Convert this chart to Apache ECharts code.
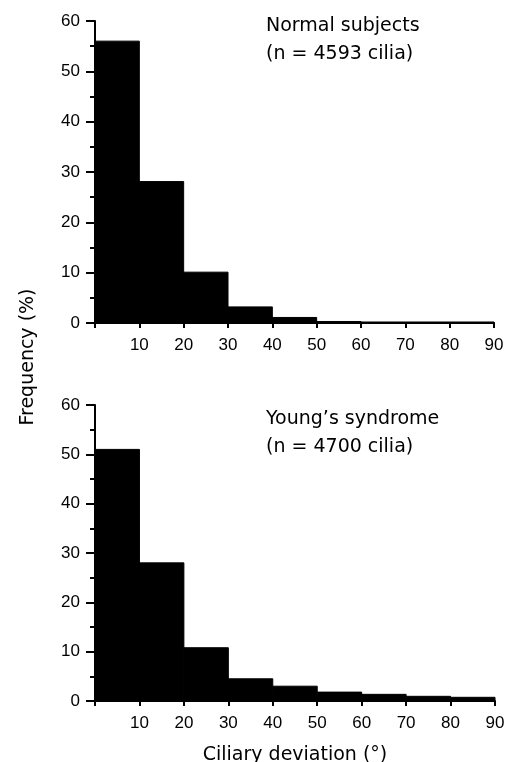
<!DOCTYPE html>
<html><head><meta charset="utf-8">
<script src="https://cdn.jsdelivr.net/npm/echarts@6/dist/echarts.min.js"></script>
<style>html,body{margin:0;padding:0;background:#fff}#c{width:532px;height:762px}</style>
</head><body><div id="c"></div>
<script>
const binStarts = [0,10,20,30,40,50,60,70,80];
const binWidth = 10;
const normalFreq = [56.0,28.1,10.1,3.2,1.1,0.3,0.2,0.2,0.2];
const youngFreq = [51.0,28.0,10.8,4.5,3.0,1.8,1.35,0.95,0.75];
const xTicks = [0,10,20,30,40,50,60,70,80,90];
const yTicks = [0,10,20,30,40,50,60];
const titles = [["Normal subjects","(n = 4593 cilia)"],["Young\u2019s syndrome","(n = 4700 cilia)"]];

const TICKFONT = '"Liberation Sans", Arial, sans-serif';
const TEXTFONT = '"DejaVu Sans", sans-serif';
const chart = echarts.init(document.getElementById('c'), null, {renderer:'canvas'});

function toData(arr){ return arr.map((v,i)=>[binStarts[i], binStarts[i]+binWidth, v]); }

function renderItem(params, api){
  const s = api.coord([api.value(0), api.value(2)]);
  const e = api.coord([api.value(1), 0]);
  return {type:'rect', shape:{x:s[0], y:s[1], width:e[0]-s[0], height:e[1]-s[1]},
    style:{fill:'#000', stroke:'#000', lineWidth:1}};
}

const grids = [
  {left:95, right:38, top:21, height:302, containLabel:false, outerBoundsMode:'none'},
  {left:95, right:37, top:405, height:296, containLabel:false, outerBoundsMode:'none'}
];

const xAxes = grids.map((g,i)=>({
  type:'value', gridIndex:i, min:xTicks[0], max:xTicks[xTicks.length-1], interval:10,
  axisLine:{show:true, onZero:false, lineStyle:{color:'#000', width:2}},
  axisTick:{show:true, inside:false, length:5, lineStyle:{color:'#000', width:2}},
  splitLine:{show:false},
  axisLabel:{margin:14, color:'#000', fontFamily:TICKFONT, fontSize:17,
    formatter:v=> v===0 ? '' : String(v)},
  name: i===1 ? 'Ciliary deviation (\u00b0)' : '',
  nameLocation:'middle', nameGap:45,
  nameTextStyle:{color:'#000', fontFamily:TEXTFONT, fontSize:19}
}));

const yAxes = grids.map((g,i)=>({
  type:'value', gridIndex:i, min:yTicks[0], max:yTicks[yTicks.length-1], interval:10,
  axisLine:{show:true, lineStyle:{color:'#000', width:2}},
  axisTick:{show:true, inside:false, length:9, lineStyle:{color:'#000', width:2}},
  minorTick:{show:true, splitNumber:2, length:5, lineStyle:{color:'#000', width:2}},
  splitLine:{show:false},
  axisLabel:{margin:15, color:'#000', fontFamily:TICKFONT, fontSize:17}
}));

const graphics = [];
const titleBase = [36, 429];
titles.forEach((t,i)=>{
  graphics.push({type:'text', x:266, y:titleBase[i], style:{text:t[0], fill:'#000', font:'19px '+TEXTFONT, textVerticalAlign:'bottom'}});
  graphics.push({type:'text', x:266, y:titleBase[i]+28, style:{text:t[1], fill:'#000', font:'19px '+TEXTFONT, textVerticalAlign:'bottom'}});
});
graphics.push({type:'text', x:28, y:357, rotation:Math.PI/2, style:{text:'Frequency (%)', fill:'#000', font:'19px '+TEXTFONT, textAlign:'center', textVerticalAlign:'middle'}});

chart.setOption({
  animation:false,
  backgroundColor:'#fff',
  grid:grids,
  xAxis:xAxes,
  yAxis:yAxes,
  graphic:graphics,
  series:[
    {type:'custom', xAxisIndex:0, yAxisIndex:0, renderItem, data:toData(normalFreq), encode:{x:[0,1], y:2}},
    {type:'custom', xAxisIndex:1, yAxisIndex:1, renderItem, data:toData(youngFreq), encode:{x:[0,1], y:2}}
  ]
});
</script></body></html>
